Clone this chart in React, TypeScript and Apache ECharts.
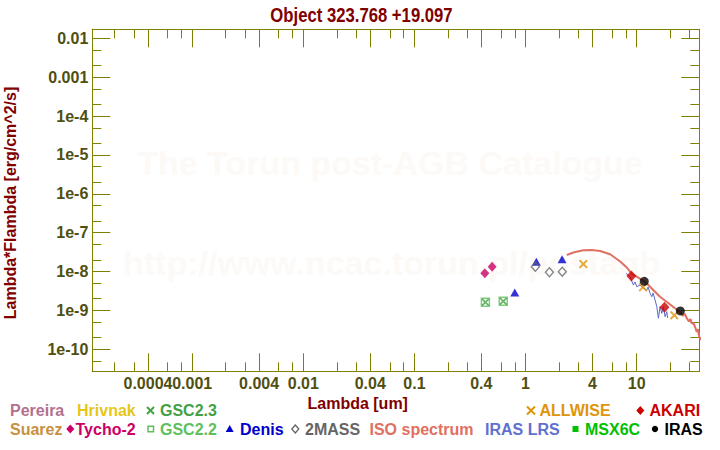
import React, { useEffect, useRef } from "react";
import * as echarts from "echarts";

const TITLE = "Object 323.768 +19.097";
const X_NAME = "Lambda [um]";
const Y_NAME = "Lambda*Flambda [erg/cm^2/s]";
const WATERMARK_1 = "The Torun post-AGB Catalogue";
const WATERMARK_2 = "http://www.ncac.torun.pl/postagb";

const X_RANGE = [1.262e-4, 36.6];
const Y_RANGE = [2.716e-11, 1.706e-2];

const X_MAJOR = [0.0004, 0.001, 0.004, 0.01, 0.04, 0.1, 0.4, 1, 4, 10];
const X_FIRST_LABEL = [0.0004];
const X_FIRST_LABEL_TEXT = ["0.0004"];
const X_REST_LABELS = [0.001, 0.004, 0.01, 0.04, 0.1, 0.4, 1, 4, 10];
const X_REST_LABEL_TEXT = ["0.001", "0.004", "0.01", "0.04", "0.1", "0.4", "1", "4", "10"];
const X_MINOR = [
  0.0002, 0.0003, 0.0006, 0.0008, 0.002, 0.003, 0.006, 0.008, 0.02, 0.03, 0.06, 0.08,
  0.2, 0.3, 0.6, 0.8, 2, 3, 6, 8, 20, 30,
];
const Y_MAJOR = [1e-2, 1e-3, 1e-4, 1e-5, 1e-6, 1e-7, 1e-8, 1e-9, 1e-10];
const Y_MAJOR_LABELS = ["0.01", "0.001", "1e-4", "1e-5", "1e-6", "1e-7", "1e-8", "1e-9", "1e-10"];
const Y_MINOR = [
  5e-3, 2e-3, 5e-4, 2e-4, 5e-5, 2e-5, 5e-6, 2e-6, 5e-7, 2e-7, 5e-8, 2e-8, 5e-9, 2e-9,
  5e-10, 2e-10, 5e-11,
];

// photometry (wavelength um, lambda*Flambda)
const TYCHO_W = [0.43, 0.5];
const TYCHO_F = [9.0e-9, 1.33e-8];
const GSC_W = [0.435, 0.63];
const GSC_F = [1.62e-9, 1.72e-9];
const DENIS_W = [0.8, 1.25, 2.13];
const DENIS_F = [2.9e-9, 1.8e-8, 2.07e-8];
const TWOMASS_W = [1.225, 1.64, 2.14];
const TWOMASS_F = [1.33e-8, 9.6e-9, 9.9e-9];
const ALLWISE_W = [3.31, 11.4, 21.8];
const ALLWISE_F = [1.56e-8, 3.94e-9, 7.5e-10];
const AKARI_W = [8.96, 17.8];
const AKARI_F = [7.7e-9, 1.2e-9];
const IRAS_W = [11.7, 24.7];
const IRAS_F = [5.6e-9, 9.7e-10];

const ISO_W = [
  2.35, 2.69, 3.31, 3.94, 4.69, 5.77, 7.1, 8.15, 9.03, 10.7, 12.3, 14.1, 16.2, 18.7, 21.4,
  24.6, 26.0, 27.0, 28.2, 29.5, 30.5, 31.4, 32.4, 33.5, 34.7, 35.5, 36.5, 40,
];
const ISO_F = [
  2.67e-8, 3.09e-8, 3.52e-8, 3.58e-8, 3.38e-8, 2.78e-8, 1.81e-8, 1.27e-8, 8.9e-9, 6.6e-9,
  5.0e-9, 3.35e-9, 2.25e-9, 1.65e-9, 1.22e-9, 9.1e-10, 7.2e-10, 8.3e-10, 6.4e-10, 5.2e-10,
  6.0e-10, 4.6e-10, 4.75e-10, 3.8e-10, 2.8e-10, 3.3e-10, 2.1e-10, 1.5e-10,
];

const LRS_W = [
  8.03, 8.37, 8.72, 9.34, 9.67, 10.02, 10.73, 11.49, 12.33, 12.66, 13.2, 13.68, 14.05, 14.64,
  15.17, 15.68, 16.24, 16.82, 17.39, 18.02, 18.66, 18.97,
];
const LRS_F = [
  9.0e-9, 8.15e-9, 7.37e-9, 4.5e-9, 5.4e-9, 4.07e-9, 4.5e-9, 3.7e-9, 3.35e-9, 4.0e-9, 2.75e-9,
  2.25e-9, 2.8e-9, 1.85e-9, 1.25e-9, 6.3e-10, 1.25e-9, 8.4e-10, 1.25e-9, 6.9e-10, 9.3e-10,
  6.4e-10,
];

const L = (v: number) => Math.log10(v);
const pairs = (w: number[], f: number[]) => w.map((x, i) => [L(x), L(f[i])]);

const AXIS_COLOR = "#808000";
const LABEL_COLOR = "#4f4f12";
const NAME_COLOR = "#800000";
const FONT = "'Liberation Sans', Arial, Helvetica, sans-serif";
const CROSS =
  "path://M0,1.5L1.5,0L5,3.5L8.5,0L10,1.5L6.5,5L10,8.5L8.5,10L5,6.5L1.5,10L0,8.5L3.5,5Z";

function makeAxis(
  position: string,
  range: number[],
  ticks: number[],
  len: number,
  labelVals?: number[],
  labelTexts?: string[],
  showLine: boolean = true
) {
  const tickLogs = ticks.map(L);
  const labelLogs = labelVals ? labelVals.map(L) : [];
  return {
    type: "value",
    position,
    min: L(range[0]),
    max: L(range[1]),
    axisLine: { show: showLine, onZero: false, lineStyle: { color: AXIS_COLOR, width: 1 } },
    axisTick: {
      show: ticks.length > 0,
      inside: true,
      length: len,
      customValues: tickLogs,
      lineStyle: { color: AXIS_COLOR, width: 1 },
    },
    axisLabel: labelVals
      ? {
          show: true,
          customValues: labelLogs,
          hideOverlap: false,
          showMinLabel: true,
          showMaxLabel: true,
          formatter: (v: number) => {
            const i = labelLogs.findIndex((q) => Math.abs(q - v) < 1e-6);
            return i >= 0 && labelTexts ? labelTexts[i] : "";
          },
          color: LABEL_COLOR,
          fontSize: 16,
          fontWeight: "bold",
          fontFamily: FONT,
          margin: 4,
        }
      : { show: false },
    splitLine: { show: false },
    minorTick: { show: false },
  };
}

function txt(text: string, x: number, y: number, fill: string, extra: any = {}) {
  return {
    type: "text",
    x,
    y,
    z: 10,
    style: {
      text,
      fill,
      font: `bold 16px ${FONT}`,
      align: "left",
      verticalAlign: "middle",
      textAlign: "left",
      textVerticalAlign: "middle",
      ...extra,
    },
  };
}

const diamond = (cx: number, cy: number, rx: number, ry: number) => [
  [cx, cy - ry],
  [cx + rx, cy],
  [cx, cy + ry],
  [cx - rx, cy],
];

export default function App() {
  const ref = useRef<HTMLDivElement>(null);
  useEffect(() => {
    if (!ref.current) return;
    const chart = echarts.init(ref.current, undefined, { renderer: "svg" });
    const R1 = 410.5;
    const R2 = 429;
    const option: any = {
      animation: false,
      backgroundColor: "#ffffff",
      grid: { left: 92.3, right: 20.7, top: 29.3, bottom: 78.7, containLabel: false },
      xAxis: [
        makeAxis("bottom", X_RANGE, X_MAJOR, 18, X_REST_LABELS, X_REST_LABEL_TEXT),
        makeAxis("bottom", X_RANGE, X_MINOR, 9),
        makeAxis("top", X_RANGE, X_MAJOR, 18),
        makeAxis("top", X_RANGE, X_MINOR, 9),
        makeAxis("bottom", X_RANGE, [], 0, X_FIRST_LABEL, X_FIRST_LABEL_TEXT, false),
      ],
      yAxis: [
        makeAxis("left", Y_RANGE, Y_MAJOR, 18, Y_MAJOR, Y_MAJOR_LABELS),
        makeAxis("left", Y_RANGE, Y_MINOR, 9),
        makeAxis("right", Y_RANGE, Y_MAJOR, 18),
        makeAxis("right", Y_RANGE, Y_MINOR, 9),
      ],
      graphic: [
        {
          type: "text",
          x: 390,
          y: 163,
          z: -1,
          silent: true,
          style: {
            text: WATERMARK_1,
            fill: "#fcf9f6",
            font: `bold 34px ${FONT}`,
            align: "center",
            verticalAlign: "middle",
            textAlign: "center",
            textVerticalAlign: "middle",
          },
        },
        {
          type: "text",
          x: 391.5,
          y: 263,
          z: -1,
          silent: true,
          style: {
            text: WATERMARK_2,
            fill: "#fcf9f6",
            font: `bold 34px ${FONT}`,
            align: "center",
            verticalAlign: "middle",
            textAlign: "center",
            textVerticalAlign: "middle",
          },
        },
        {
          type: "text",
          x: 361.5,
          y: 14.5,
          scaleX: 0.835,
          style: {
            text: TITLE,
            fill: NAME_COLOR,
            font: `bold 20px ${FONT}`,
            align: "center",
            verticalAlign: "middle",
            textAlign: "center",
            textVerticalAlign: "middle",
          },
        },
        txt(X_NAME, 307.5, 403.5, NAME_COLOR),
        {
          type: "text",
          x: 10.5,
          y: 203,
          rotation: Math.PI / 2,
          style: {
            text: Y_NAME,
            fill: NAME_COLOR,
            font: `bold 16px ${FONT}`,
            align: "center",
            verticalAlign: "middle",
            textAlign: "center",
            textVerticalAlign: "middle",
          },
        },
        // legend row 1
        txt("Pereira", 10, R1, "#b3708f"),
        txt("Hrivnak", 77, R1, "#e6c619"),
        { type: "line", shape: { x1: 147, y1: R1 - 3.5, x2: 154, y2: R1 + 3.5 }, style: { stroke: "#44a044", lineWidth: 2 } },
        { type: "line", shape: { x1: 154, y1: R1 - 3.5, x2: 147, y2: R1 + 3.5 }, style: { stroke: "#44a044", lineWidth: 2 } },
        txt("GSC2.3", 160, R1, "#44a044"),
        { type: "line", shape: { x1: 527, y1: R1 - 4, x2: 535, y2: R1 + 4 }, style: { stroke: "#e0940a", lineWidth: 2 } },
        { type: "line", shape: { x1: 535, y1: R1 - 4, x2: 527, y2: R1 + 4 }, style: { stroke: "#e0940a", lineWidth: 2 } },
        txt("ALLWISE", 539.5, R1, "#e0940a"),
        { type: "polygon", shape: { points: diamond(640.3, R1, 4, 4.5) }, style: { fill: "#cc0000" } },
        txt("AKARI", 649.5, R1, "#cc0000"),
        // legend row 2
        txt("Suarez", 10, R2, "#c89040"),
        { type: "polygon", shape: { points: diamond(70.3, R2, 4, 4.5) }, style: { fill: "#cc0066" } },
        txt("Tycho-2", 75.5, R2, "#cc0066"),
        { type: "rect", shape: { x: 148, y: R2 - 2.8, width: 5.5, height: 5.5 }, style: { fill: "none", stroke: "#60c060", lineWidth: 1.5 } },
        txt("GSC2.2", 160, R2, "#60c060"),
        { type: "polygon", shape: { points: [[229.7, R2 - 4], [233.7, R2 + 3], [225.7, R2 + 3]] }, style: { fill: "#0000cc" } },
        txt("Denis", 240, R2, "#0000cc"),
        { type: "polygon", shape: { points: diamond(295.3, R2, 3.5, 4) }, style: { fill: "none", stroke: "#666666", lineWidth: 1.3 } },
        txt("2MASS", 305, R2, "#666666"),
        txt("ISO spectrum", 369.5, R2, "#e07060"),
        txt("IRAS LRS", 485, R2, "#6070d0"),
        { type: "rect", shape: { x: 572.5, y: R2 - 3, width: 6, height: 6 }, style: { fill: "#00c000" } },
        txt("MSX6C", 585, R2, "#00c000"),
        { type: "circle", shape: { cx: 655, cy: R2, r: 3.2 }, style: { fill: "#000000" } },
        txt("IRAS", 664.5, R2, "#000000"),
      ],
      series: [
        {
          name: "ISO spectrum",
          type: "line",
          data: pairs(ISO_W, ISO_F),
          showSymbol: false,
          symbol: "none",
          lineStyle: { color: "#e07060", width: 2 },
          z: 2,
        },
        {
          name: "IRAS LRS",
          type: "line",
          data: pairs(LRS_W, LRS_F),
          showSymbol: false,
          symbol: "none",
          lineStyle: { color: "#5a6ad0", width: 1 },
          z: 3,
        },
        {
          name: "GSC2.2",
          type: "scatter",
          data: pairs(GSC_W, GSC_F),
          symbol: "rect",
          symbolSize: 8,
          itemStyle: { color: "rgba(0,0,0,0)", borderColor: "#60c060", borderWidth: 1.5 },
          z: 4,
        },
        {
          name: "GSC2.3",
          type: "scatter",
          data: pairs(GSC_W, GSC_F),
          symbol: CROSS,
          symbolSize: 8,
          itemStyle: { color: "#44a044" },
          z: 4,
        },
        {
          name: "Tycho-2",
          type: "scatter",
          data: pairs(TYCHO_W, TYCHO_F),
          symbol: "diamond",
          symbolSize: [9, 10],
          itemStyle: { color: "#cc0066" },
          z: 4,
        },
        {
          name: "Denis",
          type: "scatter",
          data: pairs(DENIS_W, DENIS_F),
          symbol: "triangle",
          symbolSize: [9, 8],
          itemStyle: { color: "#0000cc" },
          z: 4,
        },
        {
          name: "2MASS",
          type: "scatter",
          data: pairs(TWOMASS_W, TWOMASS_F),
          symbol: "diamond",
          symbolSize: [8, 9],
          itemStyle: { color: "rgba(0,0,0,0)", borderColor: "#666666", borderWidth: 1.4 },
          z: 5,
        },
        {
          name: "ALLWISE",
          type: "scatter",
          data: pairs(ALLWISE_W, ALLWISE_F),
          symbol: CROSS,
          symbolSize: 9,
          itemStyle: { color: "#e0940a" },
          z: 5,
        },
        {
          name: "AKARI",
          type: "scatter",
          data: pairs(AKARI_W, AKARI_F),
          symbol: "diamond",
          symbolSize: [10, 11],
          itemStyle: { color: "#cc0000" },
          z: 5,
        },
        {
          name: "IRAS",
          type: "scatter",
          data: pairs(IRAS_W, IRAS_F),
          symbol: "circle",
          symbolSize: 9,
          itemStyle: { color: "#000000" },
          z: 6,
        },
      ],
    };
    chart.setOption(option);
    return () => chart.dispose();
  }, []);
  return (
    <div
      ref={ref}
      style={{ position: "absolute", left: 0, top: 0, width: 720, height: 450, background: "#fff" }}
    />
  );
}
